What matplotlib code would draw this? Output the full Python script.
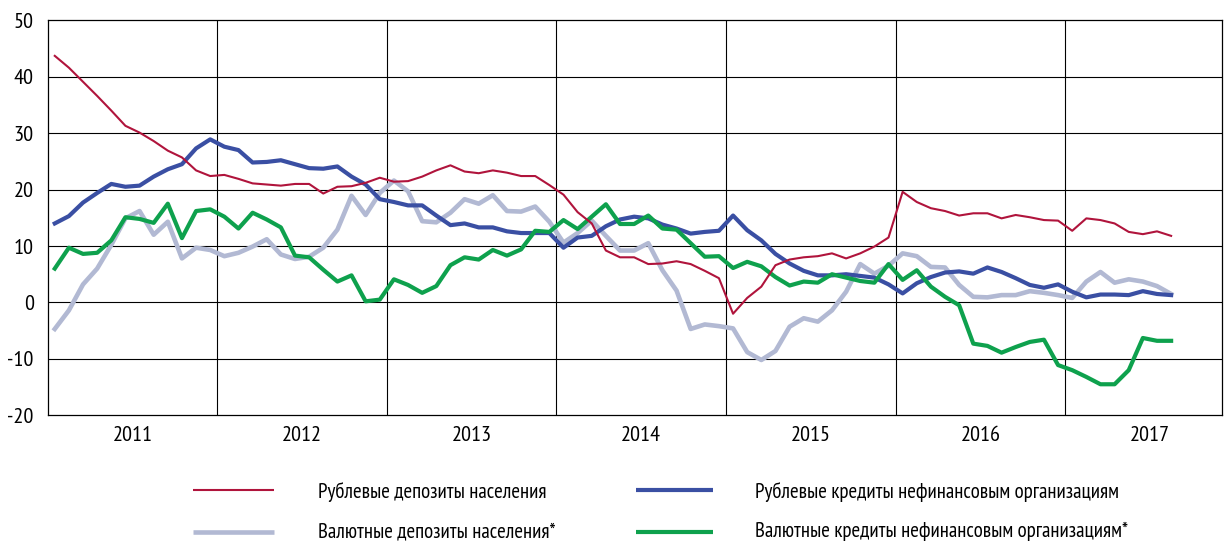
from __future__ import annotations

import matplotlib

matplotlib.use("Agg")

import matplotlib.pyplot as plt
import numpy as np
from matplotlib.lines import Line2D

plt.rcParams["font.family"] = ["PT Sans Narrow", "DejaVu Sans"]
plt.rcParams["axes.unicode_minus"] = False

YEARS = ["2011", "2012", "2013", "2014", "2015", "2016", "2017"]

# monthly growth rates, % y/y, Jan 2011 - Aug 2017
RUB_DEPOSITS = [
    43.7, 41.6, 39.1, 36.6, 34.0, 31.3, 30.1, 28.6, 26.9, 25.7, 23.4, 22.4,
    22.6, 21.9, 21.1, 20.9, 20.7, 21.0, 21.0, 19.3, 20.5, 20.6, 21.2, 22.1,
    21.4, 21.5, 22.3, 23.4, 24.3, 23.2, 22.9, 23.4, 23.0, 22.4, 22.4, 20.8,
    19.1, 16.0, 14.0, 9.2, 8.0, 8.0, 6.8, 6.9, 7.3, 6.8, 5.6, 4.3,
    -2.0, 0.8, 2.8, 6.6, 7.6, 8.0, 8.2, 8.7, 7.8, 8.7, 9.9, 11.5,
    19.6, 17.8, 16.7, 16.2, 15.4, 15.8, 15.8, 14.9, 15.5, 15.1, 14.6, 14.5,
    12.7, 14.9, 14.6, 14.0, 12.5, 12.1, 12.6, 11.8,
]

FX_DEPOSITS = [
    -4.7, -1.4, 3.2, 6.0, 10.2, 14.9, 16.2, 12.0, 14.3, 7.8, 9.7, 9.3,
    8.2, 8.8, 9.9, 11.2, 8.5, 7.7, 8.1, 9.7, 12.9, 18.9, 15.5, 19.4,
    21.6, 19.7, 14.4, 14.2, 15.9, 18.3, 17.5, 19.0, 16.2, 16.1, 17.0, 14.3,
    10.6, 12.3, 14.5, 11.8, 9.2, 9.2, 10.5, 5.7, 2.1, -4.7, -3.9, -4.2,
    -4.6, -8.8, -10.2, -8.6, -4.3, -2.8, -3.4, -1.4, 1.9, 6.8, 5.1, 6.5,
    8.7, 8.2, 6.3, 6.2, 3.1, 1.0, 0.9, 1.3, 1.3, 2.0, 1.7, 1.3,
    0.8, 3.7, 5.4, 3.5, 4.1, 3.7, 2.9, 1.5,
]

RUB_LOANS = [
    14.0, 15.3, 17.7, 19.4, 21.0, 20.5, 20.7, 22.3, 23.6, 24.5, 27.3, 28.9,
    27.6, 27.0, 24.8, 24.9, 25.2, 24.5, 23.8, 23.7, 24.1, 22.3, 20.9, 18.3,
    17.8, 17.2, 17.2, 15.4, 13.7, 14.0, 13.3, 13.3, 12.6, 12.3, 12.3, 12.3,
    9.7, 11.5, 11.8, 13.5, 14.7, 15.2, 14.9, 13.8, 13.1, 12.2, 12.5, 12.7,
    15.4, 12.8, 11.0, 8.6, 6.9, 5.6, 4.8, 4.8, 5.0, 4.7, 4.4, 3.2,
    1.6, 3.4, 4.5, 5.3, 5.5, 5.1, 6.2, 5.4, 4.3, 3.1, 2.6, 3.2,
    1.9, 0.9, 1.4, 1.4, 1.3, 2.0, 1.5, 1.3,
]

FX_LOANS = [
    6.0, 9.7, 8.6, 8.8, 11.0, 15.1, 14.8, 14.1, 17.5, 11.4, 16.2, 16.5,
    15.2, 13.1, 15.9, 14.7, 13.3, 8.3, 8.0, 5.8, 3.7, 4.8, 0.2, 0.5,
    4.1, 3.1, 1.7, 2.9, 6.6, 8.0, 7.6, 9.3, 8.3, 9.4, 12.7, 12.5,
    14.6, 13.0, 15.2, 17.4, 13.9, 13.9, 15.4, 13.1, 12.9, 10.5, 8.1, 8.2,
    6.1, 7.2, 6.4, 4.5, 3.0, 3.7, 3.5, 5.0, 4.4, 3.8, 3.5, 6.8,
    4.0, 5.7, 2.8, 1.0, -0.5, -7.3, -7.7, -8.9, -7.9, -7.0, -6.6, -11.1,
    -12.0, -13.2, -14.5, -14.5, -12.0, -6.3, -6.8, -6.8,
]

LABELS = [
    "Рублевые депозиты населения",
    "Валютные депозиты населения*",
    "Рублевые кредиты нефинансовым организациям",
    "Валютные кредиты нефинансовым организациям*",
]

COLORS = ["#B0143C", "#B2B9D3", "#3A4FA3", "#0EA14D"]
WIDTHS = [1.5, 3.3, 3.0, 3.0]

WIDTH_PX = 1224
HEIGHT_PX = 543


def add_legend(figure: plt.Figure) -> None:
    # (handle start, handle end, line y, text x, text baseline) in pixels
    slots = [
        (193, 274, 490, 318, 498),
        (193, 274, 532, 318, 537),
        (636, 713, 490, 755, 498),
        (636, 713, 532, 755, 537),
    ]

    for index, (x0, x1, line_y, text_x, text_y) in enumerate(slots):
        figure.add_artist(
            Line2D(
                [x0 / WIDTH_PX, x1 / WIDTH_PX],
                [1 - line_y / HEIGHT_PX, 1 - line_y / HEIGHT_PX],
                transform=figure.transFigure,
                color=COLORS[index],
                linewidth=WIDTHS[index],
                solid_capstyle="butt",
            )
        )

        figure.text(
            text_x / WIDTH_PX,
            1 - text_y / HEIGHT_PX,
            LABELS[index],
            fontsize=15,
            va="baseline",
            ha="left",
        )


def main() -> None:
    figure = plt.figure(figsize=(12.24, 5.43), dpi=100)
    axis = figure.add_axes(
        [47.7 / WIDTH_PX, 127.7 / HEIGHT_PX, 1174.3 / WIDTH_PX, 395.0 / HEIGHT_PX]
    )

    months = np.arange(len(RUB_DEPOSITS)) + 0.5
    series = [RUB_DEPOSITS, FX_DEPOSITS, RUB_LOANS, FX_LOANS]

    # gray first, red last so the thin line stays visible
    for index in [1, 2, 3, 0]:
        axis.plot(
            months,
            series[index],
            color=COLORS[index],
            linewidth=WIDTHS[index],
            zorder=3,
        )

    axis.set_xlim(0, 83.1)
    axis.set_ylim(-20, 50)

    for value in range(-10, 50, 10):
        axis.axhline(value, color="black", linewidth=0.8, zorder=1)

    for year_index in range(1, len(YEARS)):
        axis.axvline(12 * year_index, color="black", linewidth=0.8, zorder=1)

    axis.set_yticks(range(-20, 51, 10))
    axis.set_xticks([12 * i + 6 for i in range(len(YEARS))])
    axis.set_xticklabels(YEARS)

    axis.tick_params(axis="y", length=0, pad=10, labelsize=16)
    axis.tick_params(axis="x", length=0, pad=8, labelsize=16)

    for spine in axis.spines.values():
        spine.set_linewidth(0.9)

    add_legend(figure)

    figure.savefig("out.png", dpi=100)
    plt.close(figure)


if __name__ == "__main__":
    main()
